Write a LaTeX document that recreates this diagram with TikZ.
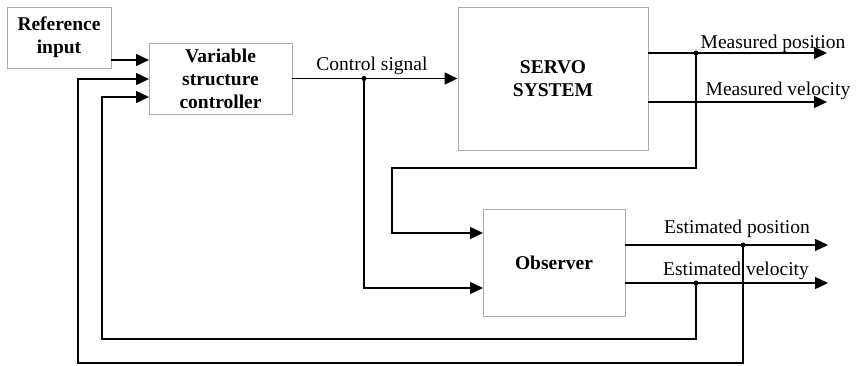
\documentclass[tikz,border=0pt]{standalone}
\usepackage{fontspec}
\setmainfont{Liberation Serif}
\usetikzlibrary{arrows.meta}

\begin{document}
\begin{tikzpicture}[x=1pt,y=-1pt,
		bloque/.style={draw=gray!65, line width=0.9pt, align=center, inner sep=0pt,
			font=\fontsize{19.5}{23}\selectfont\bfseries},
		senal/.style={line width=1.4pt, -{Triangle[length=13pt,width=12pt]}},
		etiq/.style={font=\fontsize{19.5}{23}\selectfont, inner sep=0pt, anchor=base}]

		\useasboundingbox (0,0) rectangle (856,365);

		% bloques
		\node[bloque, minimum width=104pt, minimum height=61pt] (ref) at (59,37.5) {Reference\\input};
		\node[bloque, minimum width=143pt, minimum height=71pt] (vsc) at (220.5,78.5) {Variable\\structure\\controller};
		\node[bloque, minimum width=190pt, minimum height=143pt] (servo) at (553,78.5) {SERVO\\SYSTEM};
		\node[bloque, minimum width=142pt, minimum height=107pt] (obs) at (554,262.5) {Observer};

		% puntos de entrada / salida
		\coordinate (vin1) at (149,60);
		\coordinate (vin2) at (149,79);
		\coordinate (vin3) at (149,97);
		\coordinate (oin1) at (483,233);
		\coordinate (oin2) at (483,288);
		\coordinate (mp) at (827,53);
		\coordinate (mv) at (827,102);
		\coordinate (ep) at (828,245);
		\coordinate (ev) at (828,283);

		% nudos
		\coordinate (cs) at (364,78.5);
		\coordinate (jm) at (696,53);
		\coordinate (je) at (743,245);
		\coordinate (jv) at (696,283);

		\draw[senal] (ref.east |- vin1) -- (vin1);
		\draw[senal] (vsc.east) -- (servo.west);
		\draw[senal] (servo.east |- mp) -- (mp);
		\draw[senal] (servo.east |- mv) -- (mv);
		\draw[senal] (obs.east |- ep) -- (ep);
		\draw[senal] (obs.east |- ev) -- (ev);

		% realimentaciones
		\draw[senal] (cs) |- (oin2);
		\draw[senal] (jm) |- (392,168) |- (oin1);
		\draw[senal] (jv) |- (102,339) |- (vin3);
		\draw[senal] (je) |- (78,363) |- (vin2);

		\fill (cs) circle (2.5pt); %nudo
		\fill (jm) circle (2.5pt); %nudo
		\fill (je) circle (2.5pt); %nudo
		\fill (jv) circle (2.5pt); %nudo

		\node[etiq] (csl) at (372,70) {Control signal};
		\node[etiq] (mpl) at (773,48) {Measured position};
		\node[etiq] (mvl) at (778,95) {Measured velocity};
		\node[etiq] (epl) at (737,233) {Estimated position};
		\node[etiq] (evl) at (736,275) {Estimated velocity};

	\end{tikzpicture}
\end{document}
